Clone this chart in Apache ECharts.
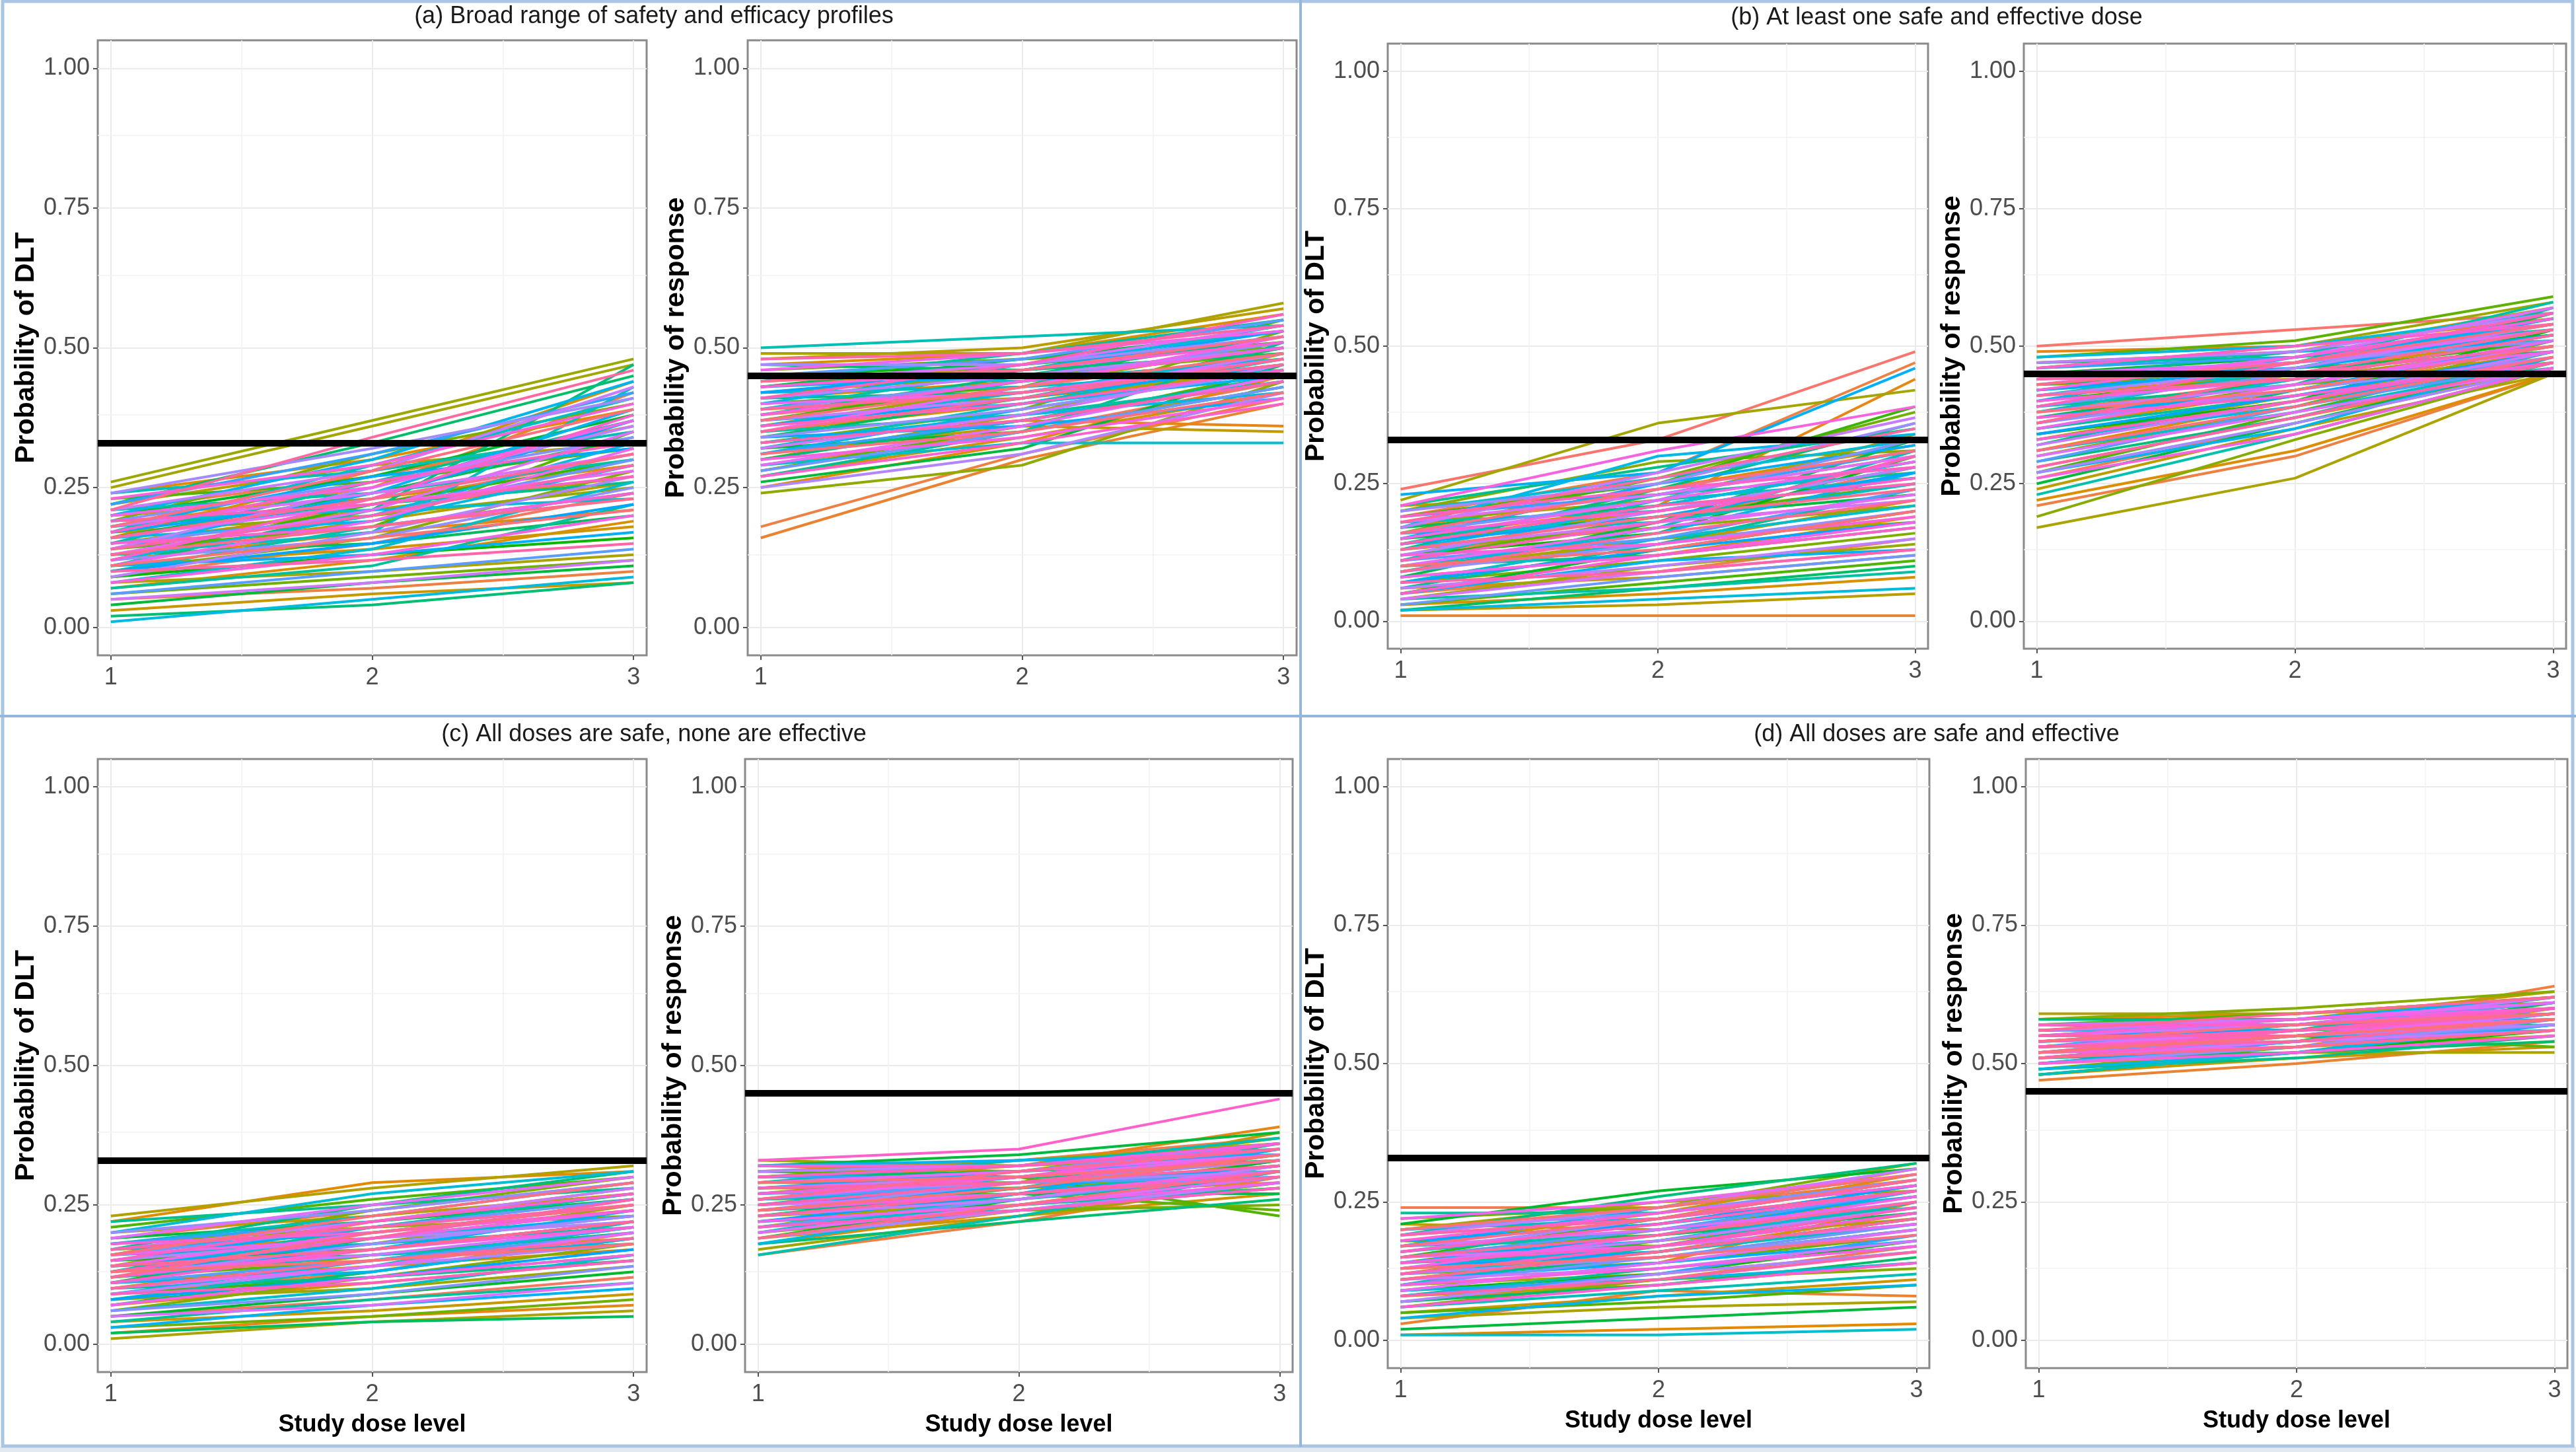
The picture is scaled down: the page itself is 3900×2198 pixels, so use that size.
<!DOCTYPE html>
<html><head><meta charset="utf-8">
<script src="https://cdn.jsdelivr.net/npm/echarts@6/dist/echarts.min.js"></script>
<style>html,body{margin:0;padding:0;background:#fff}#c{width:3900px;height:2198px}</style>
</head><body><div id="c"></div>
<script>
// ---------------- data ----------------
const doseLevels = [1, 2, 3];
const yTickValues = [0, 0.25, 0.5, 0.75, 1];
const yMinorValues = [0.125, 0.375, 0.625, 0.875];
const xMinorValues = [1.5, 2.5];
const dltThreshold = 0.33;
const respThreshold = 0.45;
const panelTitles = [
  '(a) Broad range of safety and efficacy profiles',
  '(b) At least one safe and effective dose',
  '(c) All doses are safe, none are effective',
  '(d) All doses are safe and effective'
];
const yNameDLT = 'Probability of DLT';
const yNameResp = 'Probability of response';
const xName = 'Study dose level';

// each entry: probabilities at dose levels 1, 2, 3
const aDLT = [
[0.14,0.22,0.31],[0.09,0.15,0.24],[0.21,0.27,0.36],[0.05,0.07,0.10],[0.18,0.25,0.42],
[0.12,0.17,0.21],[0.24,0.30,0.39],[0.07,0.12,0.19],[0.16,0.28,0.44],[0.11,0.14,0.18],
[0.20,0.23,0.29],[0.03,0.06,0.08],[0.15,0.21,0.27],[0.22,0.29,0.33],[0.13,0.19,0.26],
[0.08,0.10,0.13],[0.25,0.36,0.47],[0.26,0.37,0.48],[0.17,0.20,0.25],[0.10,0.16,0.28],
[0.19,0.31,0.40],[0.06,0.09,0.12],[0.14,0.18,0.35],[0.23,0.26,0.32],[0.12,0.22,0.30],
[0.09,0.13,0.16],[0.20,0.27,0.38],[0.04,0.08,0.11],[0.16,0.24,0.34],[0.13,0.15,0.20],
[0.22,0.33,0.45],[0.02,0.04,0.08],[0.11,0.21,0.47],[0.18,0.22,0.26],[0.15,0.26,0.37],
[0.07,0.11,0.22],[0.21,0.24,0.30],[0.10,0.18,0.24],[0.24,0.28,0.35],[0.13,0.17,0.43],
[0.17,0.29,0.41],[0.08,0.14,0.26],[0.19,0.21,0.23],[0.12,0.20,0.33],[0.01,0.05,0.09],
[0.16,0.19,0.29],[0.20,0.30,0.44],[0.14,0.24,0.39],[0.11,0.13,0.17],[0.18,0.27,0.32],
[0.17,0.23,0.37],[0.10,0.15,0.22],[0.22,0.31,0.42],[0.06,0.10,0.14],[0.15,0.20,0.30],
[0.19,0.26,0.34],[0.12,0.16,0.25],[0.24,0.32,0.41],[0.09,0.17,0.27],[0.14,0.25,0.36],
[0.21,0.28,0.43],[0.05,0.08,0.12],[0.18,0.24,0.31],[0.13,0.21,0.35],[0.16,0.22,0.28],
[0.11,0.19,0.32],[0.20,0.25,0.37],[0.08,0.13,0.20],[0.23,0.29,0.40],[0.15,0.18,0.24],
[0.12,0.23,0.38],[0.17,0.26,0.33],[0.19,0.22,0.27],[0.14,0.20,0.29],[0.10,0.12,0.15],
[0.21,0.34,0.46],[0.16,0.23,0.31],[0.13,0.18,0.23],[0.18,0.28,0.39],[0.11,0.16,0.21]
];
const aResp = [
[0.38,0.42,0.48],[0.29,0.35,0.44],[0.44,0.46,0.52],[0.18,0.31,0.41],[0.16,0.30,0.40],
[0.33,0.37,0.36],[0.41,0.44,0.50],[0.25,0.33,0.45],[0.47,0.49,0.56],[0.35,0.40,0.47],
[0.27,0.34,0.42],[0.43,0.47,0.54],[0.31,0.36,0.35],[0.48,0.50,0.57],[0.39,0.41,0.46],
[0.49,0.49,0.58],[0.30,0.38,0.49],[0.36,0.43,0.51],[0.24,0.29,0.44],[0.42,0.45,0.49],
[0.33,0.39,0.53],[0.46,0.48,0.50],[0.28,0.36,0.46],[0.40,0.43,0.55],[0.37,0.44,0.48],
[0.45,0.47,0.51],[0.32,0.35,0.43],[0.26,0.32,0.47],[0.43,0.48,0.53],[0.34,0.41,0.50],
[0.47,0.46,0.49],[0.30,0.37,0.45],[0.38,0.45,0.52],[0.41,0.42,0.47],[0.27,0.35,0.51],
[0.44,0.49,0.55],[0.35,0.38,0.44],[0.39,0.46,0.54],[0.50,0.52,0.54],[0.32,0.40,0.48],
[0.42,0.43,0.46],[0.29,0.33,0.33],[0.36,0.42,0.49],[0.45,0.44,0.48],[0.33,0.38,0.42],
[0.40,0.47,0.53],[0.31,0.39,0.46],[0.37,0.40,0.45],[0.43,0.45,0.50],[0.34,0.36,0.41],
[0.36,0.41,0.47],[0.42,0.46,0.53],[0.31,0.37,0.44],[0.45,0.48,0.55],[0.28,0.35,0.43],
[0.39,0.44,0.51],[0.34,0.39,0.46],[0.47,0.47,0.52],[0.25,0.31,0.42],[0.41,0.45,0.50],
[0.37,0.41,0.49],[0.32,0.38,0.47],[0.44,0.47,0.54],[0.29,0.36,0.45],[0.40,0.42,0.48],
[0.35,0.43,0.52],[0.46,0.49,0.53],[0.30,0.34,0.41],[0.38,0.44,0.50],[0.43,0.46,0.51],
[0.27,0.33,0.40],[0.36,0.40,0.46],[0.41,0.47,0.56],[0.33,0.37,0.44],[0.48,0.49,0.54],
[0.39,0.42,0.47],[0.35,0.41,0.48],[0.44,0.46,0.52],[0.31,0.35,0.42],[0.37,0.43,0.49]
];
const bDLT = [
[0.24,0.33,0.49],[0.12,0.18,0.28],[0.05,0.09,0.15],[0.19,0.27,0.47],[0.01,0.01,0.01],
[0.15,0.21,0.44],[0.08,0.12,0.19],[0.17,0.24,0.32],[0.03,0.05,0.08],[0.21,0.23,0.30],
[0.10,0.14,0.22],[0.06,0.08,0.12],[0.14,0.20,0.26],[0.02,0.03,0.05],[0.18,0.22,0.34],
[0.09,0.15,0.18],[0.22,0.36,0.42],[0.04,0.10,0.14],[0.13,0.17,0.21],[0.20,0.29,0.31],
[0.07,0.11,0.16],[0.16,0.26,0.38],[0.11,0.19,0.25],[0.03,0.07,0.11],[0.19,0.25,0.39],
[0.12,0.16,0.30],[0.05,0.13,0.20],[0.15,0.19,0.23],[0.08,0.18,0.33],[0.17,0.21,0.29],
[0.02,0.06,0.10],[0.13,0.24,0.36],[0.10,0.12,0.17],[0.21,0.28,0.35],[0.06,0.14,0.24],
[0.14,0.23,0.27],[0.04,0.06,0.09],[0.18,0.20,0.28],[0.09,0.17,0.31],[0.11,0.22,0.26],
[0.16,0.18,0.25],[0.07,0.15,0.21],[0.20,0.26,0.33],[0.02,0.04,0.06],[0.13,0.21,0.29],
[0.17,0.30,0.34],[0.10,0.16,0.27],[0.05,0.11,0.13],[0.23,0.27,0.46],[0.15,0.25,0.32],
[0.14,0.19,0.27],[0.07,0.13,0.18],[0.19,0.23,0.31],[0.11,0.15,0.24],[0.03,0.08,0.12],
[0.16,0.22,0.33],[0.09,0.14,0.20],[0.20,0.25,0.36],[0.12,0.20,0.28],[0.06,0.10,0.15],
[0.17,0.27,0.37],[0.13,0.18,0.22],[0.04,0.09,0.13],[0.18,0.23,0.30],[0.10,0.17,0.23],
[0.15,0.22,0.29],[0.08,0.12,0.18],[0.21,0.31,0.39],[0.12,0.14,0.19],[0.16,0.20,0.26],
[0.05,0.12,0.17],[0.19,0.24,0.28],[0.11,0.18,0.30],[0.14,0.21,0.25],[0.07,0.09,0.13],
[0.18,0.26,0.35],[0.09,0.16,0.22],[0.13,0.19,0.24],[0.16,0.24,0.31],[0.10,0.13,0.20]
];
const bResp = [
[0.50,0.53,0.56],[0.38,0.44,0.50],[0.26,0.36,0.46],[0.21,0.30,0.45],[0.44,0.47,0.53],
[0.49,0.50,0.55],[0.31,0.40,0.47],[0.22,0.31,0.45],[0.41,0.45,0.52],[0.35,0.42,0.49],
[0.47,0.49,0.57],[0.28,0.37,0.46],[0.39,0.46,0.54],[0.24,0.35,0.45],[0.43,0.44,0.50],
[0.17,0.26,0.45],[0.33,0.41,0.48],[0.46,0.50,0.58],[0.30,0.39,0.51],[0.19,0.33,0.46],
[0.42,0.47,0.55],[0.36,0.43,0.47],[0.48,0.51,0.59],[0.27,0.38,0.49],[0.40,0.45,0.51],
[0.34,0.40,0.53],[0.45,0.48,0.52],[0.25,0.36,0.47],[0.37,0.44,0.56],[0.43,0.46,0.49],
[0.32,0.42,0.50],[0.47,0.48,0.54],[0.29,0.37,0.48],[0.39,0.43,0.57],[0.44,0.49,0.53],
[0.35,0.41,0.46],[0.41,0.47,0.58],[0.23,0.34,0.46],[0.46,0.49,0.51],[0.38,0.46,0.55],
[0.31,0.38,0.47],[0.42,0.45,0.50],[0.36,0.44,0.52],[0.48,0.50,0.56],[0.33,0.39,0.49],
[0.40,0.48,0.54],[0.27,0.35,0.48],[0.44,0.46,0.53],[0.37,0.42,0.51],[0.45,0.47,0.55],
[0.42,0.46,0.52],[0.34,0.41,0.49],[0.46,0.48,0.55],[0.29,0.39,0.47],[0.39,0.45,0.53],
[0.44,0.47,0.51],[0.36,0.42,0.48],[0.27,0.36,0.46],[0.41,0.46,0.54],[0.47,0.49,0.56],
[0.32,0.40,0.49],[0.38,0.43,0.50],[0.43,0.48,0.57],[0.30,0.38,0.46],[0.45,0.47,0.53],
[0.35,0.43,0.51],[0.40,0.44,0.49],[0.26,0.34,0.46],[0.42,0.48,0.55],[0.37,0.41,0.47],
[0.46,0.50,0.54],[0.33,0.40,0.48],[0.39,0.47,0.56],[0.44,0.45,0.50],[0.28,0.37,0.47],
[0.41,0.44,0.52],[0.36,0.45,0.53],[0.43,0.47,0.54],[0.31,0.39,0.48],[0.38,0.42,0.50]
];
const cDLT = [
[0.12,0.17,0.22],[0.05,0.08,0.12],[0.19,0.24,0.29],[0.09,0.13,0.20],[0.15,0.20,0.24],
[0.02,0.05,0.07],[0.22,0.29,0.31],[0.11,0.14,0.17],[0.17,0.19,0.26],[0.07,0.11,0.15],
[0.14,0.22,0.28],[0.04,0.06,0.09],[0.20,0.23,0.27],[0.10,0.16,0.19],[0.23,0.28,0.32],
[0.01,0.04,0.06],[0.13,0.18,0.25],[0.08,0.10,0.14],[0.18,0.21,0.23],[0.06,0.12,0.18],
[0.16,0.24,0.30],[0.03,0.05,0.08],[0.12,0.15,0.21],[0.21,0.26,0.30],[0.09,0.12,0.16],
[0.15,0.17,0.22],[0.05,0.09,0.13],[0.19,0.22,0.26],[0.11,0.19,0.24],[0.02,0.04,0.05],
[0.14,0.16,0.20],[0.07,0.13,0.19],[0.17,0.25,0.31],[0.10,0.12,0.15],[0.22,0.25,0.28],
[0.04,0.08,0.11],[0.13,0.21,0.27],[0.16,0.18,0.21],[0.08,0.14,0.22],[0.18,0.23,0.29],
[0.12,0.16,0.18],[0.06,0.10,0.16],[0.20,0.27,0.31],[0.14,0.19,0.23],[0.09,0.15,0.21],
[0.17,0.20,0.25],[0.11,0.13,0.19],[0.03,0.07,0.10],[0.15,0.21,0.26],[0.13,0.17,0.24],
[0.14,0.18,0.23],[0.08,0.12,0.17],[0.18,0.22,0.27],[0.11,0.15,0.20],[0.16,0.21,0.26],
[0.06,0.09,0.14],[0.20,0.24,0.29],[0.12,0.18,0.23],[0.15,0.19,0.22],[0.09,0.14,0.18],
[0.17,0.22,0.28],[0.13,0.16,0.21],[0.05,0.07,0.11],[0.19,0.25,0.30],[0.10,0.14,0.20],
[0.14,0.20,0.25],[0.16,0.19,0.24],[0.07,0.12,0.16],[0.12,0.17,0.21],[0.18,0.20,0.24],
[0.11,0.17,0.22],[0.15,0.22,0.27],[0.09,0.11,0.15],[0.13,0.19,0.26],[0.17,0.21,0.25],
[0.10,0.15,0.19],[0.14,0.17,0.22],[0.12,0.20,0.25],[0.16,0.23,0.29],[0.13,0.15,0.18]
];
const cResp = [
[0.27,0.29,0.33],[0.20,0.25,0.31],[0.31,0.33,0.37],[0.16,0.22,0.30],[0.24,0.27,0.29],
[0.29,0.32,0.39],[0.18,0.24,0.28],[0.26,0.30,0.35],[0.22,0.26,0.32],[0.32,0.31,0.36],
[0.19,0.23,0.27],[0.28,0.28,0.30],[0.25,0.29,0.38],[0.21,0.27,0.33],[0.30,0.33,0.36],
[0.23,0.25,0.28],[0.27,0.31,0.37],[0.17,0.23,0.29],[0.33,0.32,0.34],[0.24,0.28,0.31],
[0.20,0.24,0.25],[0.29,0.29,0.32],[0.26,0.27,0.24],[0.31,0.30,0.23],[0.22,0.25,0.30],
[0.28,0.30,0.35],[0.19,0.26,0.33],[0.32,0.34,0.38],[0.25,0.27,0.27],[0.23,0.28,0.34],
[0.30,0.31,0.33],[0.18,0.22,0.26],[0.27,0.30,0.31],[0.24,0.26,0.30],[0.21,0.25,0.28],
[0.26,0.28,0.36],[0.29,0.33,0.35],[0.16,0.23,0.31],[0.31,0.32,0.37],[0.20,0.27,0.32],
[0.28,0.29,0.34],[0.22,0.24,0.29],[0.25,0.30,0.33],[0.30,0.32,0.36],[0.18,0.25,0.30],
[0.27,0.28,0.32],[0.23,0.27,0.35],[0.32,0.33,0.34],[0.26,0.29,0.31],[0.25,0.28,0.32],
[0.28,0.31,0.34],[0.22,0.27,0.31],[0.30,0.30,0.35],[0.26,0.29,0.30],[0.21,0.26,0.31],
[0.29,0.31,0.36],[0.24,0.29,0.33],[0.27,0.29,0.31],[0.19,0.24,0.29],[0.31,0.32,0.35],
[0.23,0.26,0.32],[0.28,0.30,0.33],[0.25,0.27,0.30],[0.20,0.25,0.30],[0.29,0.31,0.34],
[0.26,0.30,0.34],[0.22,0.25,0.29],[0.32,0.32,0.36],[0.24,0.27,0.31],[0.27,0.30,0.36],
[0.33,0.35,0.44],[0.21,0.24,0.28],[0.30,0.32,0.35],[0.25,0.29,0.34],[0.28,0.29,0.32],
[0.23,0.27,0.30],[0.26,0.31,0.35],[0.19,0.25,0.31],[0.29,0.30,0.33],[0.24,0.28,0.34]
];
const dDLT = [
[0.15,0.19,0.24],[0.07,0.11,0.17],[0.24,0.24,0.29],[0.11,0.16,0.23],[0.03,0.09,0.08],
[0.19,0.22,0.30],[0.01,0.02,0.03],[0.13,0.15,0.20],[0.09,0.14,0.25],[0.17,0.23,0.31],
[0.05,0.08,0.11],[0.21,0.20,0.26],[0.12,0.18,0.22],[0.08,0.10,0.14],[0.16,0.21,0.28],
[0.04,0.06,0.07],[0.20,0.25,0.27],[0.10,0.12,0.16],[0.14,0.20,0.26],[0.06,0.11,0.13],
[0.22,0.24,0.32],[0.12,0.14,0.19],[0.18,0.17,0.21],[0.05,0.07,0.10],[0.15,0.22,0.29],
[0.09,0.12,0.18],[0.21,0.27,0.31],[0.02,0.04,0.06],[0.13,0.18,0.24],[0.17,0.19,0.23],
[0.07,0.10,0.15],[0.11,0.15,0.20],[0.19,0.26,0.32],[0.14,0.16,0.22],[0.08,0.13,0.17],
[0.23,0.23,0.28],[0.10,0.17,0.25],[0.16,0.20,0.24],[0.06,0.09,0.12],[0.12,0.16,0.21],
[0.20,0.22,0.27],[0.01,0.01,0.02],[0.15,0.18,0.25],[0.09,0.11,0.14],[0.18,0.21,0.26],
[0.13,0.17,0.23],[0.04,0.08,0.10],[0.17,0.24,0.30],[0.11,0.14,0.18],[0.14,0.19,0.27],
[0.13,0.16,0.22],[0.18,0.21,0.28],[0.08,0.12,0.19],[0.15,0.20,0.27],[0.10,0.15,0.21],
[0.20,0.23,0.29],[0.12,0.15,0.20],[0.16,0.22,0.29],[0.07,0.12,0.16],[0.14,0.18,0.24],
[0.19,0.24,0.31],[0.11,0.13,0.18],[0.17,0.20,0.25],[0.09,0.14,0.20],[0.15,0.17,0.21],
[0.22,0.25,0.30],[0.13,0.19,0.26],[0.10,0.13,0.17],[0.18,0.23,0.28],[0.06,0.10,0.14],
[0.14,0.17,0.23],[0.16,0.21,0.27],[0.12,0.17,0.24],[0.19,0.22,0.27],[0.08,0.11,0.16],
[0.15,0.19,0.25],[0.11,0.16,0.22],[0.17,0.22,0.29],[0.13,0.15,0.19],[0.20,0.24,0.30]
];
const dResp = [
[0.52,0.55,0.58],[0.56,0.57,0.61],[0.49,0.52,0.55],[0.54,0.56,0.64],[0.47,0.50,0.54],
[0.58,0.59,0.62],[0.51,0.54,0.57],[0.55,0.55,0.59],[0.50,0.53,0.60],[0.57,0.58,0.60],
[0.53,0.54,0.56],[0.48,0.51,0.53],[0.56,0.58,0.63],[0.52,0.53,0.55],[0.59,0.59,0.61],
[0.50,0.52,0.52],[0.54,0.57,0.62],[0.57,0.56,0.58],[0.51,0.55,0.59],[0.58,0.60,0.63],
[0.49,0.53,0.57],[0.55,0.57,0.60],[0.53,0.55,0.53],[0.57,0.59,0.62],[0.52,0.54,0.58],
[0.48,0.52,0.56],[0.55,0.56,0.57],[0.50,0.54,0.61],[0.56,0.57,0.59],[0.53,0.56,0.60],
[0.51,0.52,0.54],[0.54,0.55,0.58],[0.58,0.58,0.60],[0.49,0.51,0.55],[0.52,0.56,0.62],
[0.55,0.58,0.61],[0.50,0.53,0.57],[0.57,0.57,0.59],[0.53,0.54,0.59],[0.48,0.52,0.58],
[0.56,0.56,0.60],[0.51,0.55,0.56],[0.54,0.56,0.59],[0.52,0.55,0.60],[0.55,0.57,0.58],
[0.49,0.52,0.57],[0.53,0.57,0.61],[0.56,0.58,0.62],[0.50,0.54,0.56],[0.54,0.55,0.57],
[0.53,0.56,0.59],[0.55,0.56,0.60],[0.51,0.53,0.57],[0.54,0.57,0.61],[0.52,0.54,0.57],
[0.56,0.57,0.60],[0.50,0.53,0.58],[0.54,0.55,0.59],[0.53,0.55,0.57],[0.57,0.58,0.61],
[0.52,0.55,0.59],[0.55,0.57,0.62],[0.51,0.54,0.56],[0.53,0.56,0.58],[0.56,0.58,0.61],
[0.54,0.56,0.58],[0.52,0.53,0.56],[0.55,0.58,0.60],[0.50,0.52,0.55],[0.53,0.55,0.60],
[0.57,0.57,0.60],[0.51,0.55,0.58],[0.54,0.56,0.60],[0.52,0.56,0.59],[0.55,0.55,0.58],
[0.53,0.54,0.58],[0.56,0.59,0.62],[0.51,0.53,0.56],[0.54,0.57,0.59],[0.52,0.55,0.58]
];

// ---------------- styling / layout ----------------
const FONT = '"Liberation Sans", Arial, sans-serif';

// ggplot2 default hue palette (hcl, c=100, l=65)
function hclHex(h, c, l) {
  const hr = h * Math.PI / 180;
  const U = c * Math.cos(hr), V = c * Math.sin(hr);
  const Y = l > 7.999592 ? Math.pow((l + 16) / 116, 3) : l / 903.3;
  const un = 0.1978398, vn = 0.4683363;
  const u = U / (13 * l) + un, v = V / (13 * l) + vn;
  const X = 9.0 * Y * u / (4 * v);
  const Z = -X / 3 - 5 * Y + 3 * Y / v;
  const lin = [3.240479 * X - 1.537150 * Y - 0.498535 * Z,
              -0.969256 * X + 1.875992 * Y + 0.041556 * Z,
               0.055648 * X - 0.204043 * Y + 1.057311 * Z];
  return '#' + lin.map(t => {
    let g = t <= 0.0031308 ? 12.92 * t : 1.055 * Math.pow(t, 1 / 2.4) - 0.055;
    g = Math.max(0, Math.min(1, g));
    return Math.round(g * 255).toString(16).padStart(2, '0');
  }).join('');
}
function huePal(n) {
  const out = [];
  for (let i = 0; i < n; i++) out.push(hclHex(15 + 360 * i / n, 100, 65));
  return out;
}

const panels = [
  { data: aDLT,  thr: dltThreshold,  yName: yNameDLT,  xName: '', box: [148, 61, 831, 931] },
  { data: aResp, thr: respThreshold, yName: yNameResp, xName: '', box: [1132, 61, 831, 931] },
  { data: bDLT,  thr: dltThreshold,  yName: yNameDLT,  xName: '', box: [2101, 66, 818, 916] },
  { data: bResp, thr: respThreshold, yName: yNameResp, xName: '', box: [3064, 66, 821, 916] },
  { data: cDLT,  thr: dltThreshold,  yName: yNameDLT,  xName: xName, box: [148, 1149, 831, 928] },
  { data: cResp, thr: respThreshold, yName: yNameResp, xName: xName, box: [1128, 1149, 829, 928] },
  { data: dDLT,  thr: dltThreshold,  yName: yNameDLT,  xName: xName, box: [2101, 1149, 820, 922] },
  { data: dResp, thr: respThreshold, yName: yNameResp, xName: xName, box: [3067, 1149, 820, 922] }
];

const grids = [], xAxes = [], yAxes = [], series = [];
panels.forEach((p, i) => {
  const [l, t, w, h] = p.box;
  grids.push({ left: l, top: t, width: w, height: h, show: true,
    borderColor: '#8a8a8a', borderWidth: 3, backgroundColor: '#fff', containLabel: false });
  xAxes.push({
    type: 'value', gridIndex: i, min: 0.95, max: 3.05,
    axisLine: { show: false, onZero: false },
    axisTick: { show: true, customValues: doseLevels, length: 7, lineStyle: { color: '#555', width: 2 } },
    axisLabel: { customValues: doseLevels, fontSize: 36, color: '#4D4D4D', margin: 16, fontFamily: FONT },
    splitLine: { show: true, lineStyle: { color: '#EBEBEB', width: 2 } },
    name: p.xName, nameLocation: 'middle', nameGap: 62,
    nameTextStyle: { fontSize: 36, fontWeight: 'bold', color: '#000', fontFamily: FONT }
  });
  yAxes.push({
    type: 'value', gridIndex: i, min: -0.05, max: 1.05,
    axisLine: { show: false, onZero: false },
    axisTick: { show: true, customValues: yTickValues, length: 7, lineStyle: { color: '#555', width: 2 } },
    axisLabel: { customValues: yTickValues, formatter: v => v.toFixed(2), fontSize: 36,
      color: '#4D4D4D', margin: 12, fontFamily: FONT },
    splitLine: { show: true, lineStyle: { color: '#EBEBEB', width: 2 } },
    name: p.yName, nameLocation: 'middle', nameRotate: 90, nameGap: 88,
    nameTextStyle: { fontSize: 41, fontWeight: 'bold', color: '#000', fontFamily: FONT }
  });
  // minor grid lines (bottom layer)
  series.push({
    type: 'line', xAxisIndex: i, yAxisIndex: i, data: [], zlevel: 0, z: 0, silent: true,
    markLine: { silent: true, zlevel: 0, z: 0, symbol: 'none', label: { show: false },
      lineStyle: { color: '#F2F2F2', width: 1.5, type: 'solid' },
      data: yMinorValues.map(v => ({ yAxis: v })).concat(xMinorValues.map(v => ({ xAxis: v }))) }
  });
  const cols = huePal(p.data.length);
  p.data.forEach((line, j) => {
    series.push({
      type: 'line', xAxisIndex: i, yAxisIndex: i, zlevel: 1, z: 2, silent: true,
      data: doseLevels.map((x, k) => [x, line[k]]),
      symbol: 'none', showSymbol: false,
      lineStyle: { width: 4, color: cols[j] }
    });
  });
  // threshold line
  series.push({
    type: 'line', xAxisIndex: i, yAxisIndex: i, data: [], zlevel: 1, z: 10, silent: true,
    markLine: { silent: true, zlevel: 1, z: 10, symbol: 'none', label: { show: false },
      lineStyle: { color: '#000', width: 10, type: 'solid' },
      data: [{ yAxis: p.thr }] }
  });
});

const titlePos = [[990, 25], [2932, 27], [990, 1112], [2932, 1112]];
const graphic = [
  { type: 'rect', z: 100, silent: true, shape: { x: 0, y: 2190, width: 3900, height: 8 }, style: { fill: '#E2E9F1' } },
  { type: 'rect', z: 100, silent: true, shape: { x: 4, y: 2, width: 3891, height: 2187 },
    style: { fill: 'none', stroke: '#A9C5E3', lineWidth: 5 } },
  { type: 'line', z: 100, silent: true, shape: { x1: 1969, y1: 0, x2: 1969, y2: 2190 },
    style: { stroke: '#93B6DC', lineWidth: 4 } },
  { type: 'line', z: 100, silent: true, shape: { x1: 0, y1: 1084, x2: 3900, y2: 1084 },
    style: { stroke: '#93B6DC', lineWidth: 4 } }
].concat(panelTitles.map((t, i) => ({
  type: 'text', z: 100, silent: true, x: titlePos[i][0], y: titlePos[i][1],
  style: { text: t, fontSize: 36, fill: '#1A1A1A', fontFamily: FONT, textAlign: 'center', textVerticalAlign: 'middle' }
})));

const chart = echarts.init(document.getElementById('c'), null, { renderer: 'canvas' });
chart.setOption({
  animation: false,
  backgroundColor: '#ffffff',
  textStyle: { fontFamily: FONT },
  grid: grids, xAxis: xAxes, yAxis: yAxes, series: series, graphic: graphic
});
</script>
</body></html>
